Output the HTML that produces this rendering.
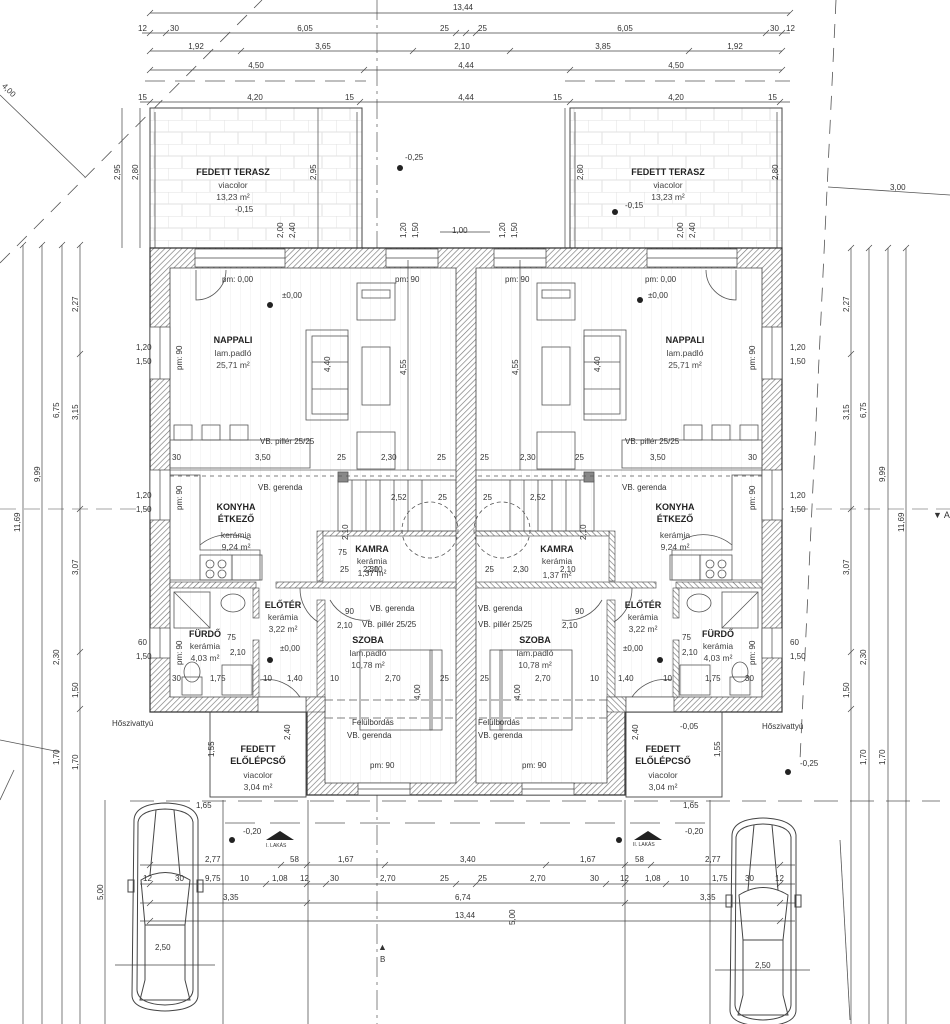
<!DOCTYPE html>
<html><head><meta charset="utf-8"><style>
html,body{margin:0;padding:0;background:#fff;}
svg{display:block;font-family:"Liberation Sans",sans-serif;}
text{fill:#333;font-size:8px;}
.b{font-weight:bold;font-size:9px;fill:#222;}
.t{font-size:8.5px;fill:#444;}
</style></head><body>
<svg width="950" height="1024" viewBox="0 0 950 1024" xmlns="http://www.w3.org/2000/svg">
<defs>
<pattern id="h" width="4" height="4" patternUnits="userSpaceOnUse" patternTransform="rotate(45)"><rect width="4" height="4" fill="#fff"/><line x1="0" y1="0" x2="0" y2="4" stroke="#777" stroke-width="1.3"/></pattern>
<pattern id="br" width="28" height="24" patternUnits="userSpaceOnUse"><rect width="28" height="24" fill="#fff"/><path d="M0,0H28M0,12H28M0,0V12M14,12V24" stroke="#e2e2e2" stroke-width="1" fill="none"/></pattern>
<pattern id="fl" width="10" height="10" patternUnits="userSpaceOnUse"><rect width="10" height="10" fill="#fff"/><line x1="0" y1="0" x2="0" y2="10" stroke="#ececec"/></pattern>
</defs>

<!-- guide lines -->
<g stroke="#555" fill="none" stroke-width="0.8">
<line x1="0" y1="263" x2="262" y2="0" stroke-dasharray="14,10"/>
<line x1="0" y1="95" x2="85" y2="177"/>
<line x1="836" y1="0" x2="800" y2="760" stroke-dasharray="14,10"/>
<line x1="828" y1="187" x2="950" y2="195"/>
<line x1="0" y1="509" x2="950" y2="509" stroke-dasharray="16,8" stroke="#888"/>
<line x1="377" y1="0" x2="377" y2="1024" stroke-dasharray="20,5,3,5" stroke="#666"/>
<line x1="0" y1="740" x2="60" y2="752"/>
<line x1="0" y1="800" x2="14" y2="770"/>
<line x1="145" y1="81" x2="366" y2="81" stroke-dasharray="20,10"/>
<line x1="565" y1="81" x2="790" y2="81" stroke-dasharray="20,10"/>
<line x1="130" y1="801" x2="940" y2="801" stroke-dasharray="24,12"/>
<line x1="225" y1="823" x2="720" y2="823" stroke-dasharray="30,15"/>
<line x1="223" y1="800" x2="223" y2="1024"/>
<line x1="308" y1="800" x2="308" y2="1024"/>
<line x1="625" y1="800" x2="625" y2="1024"/>
<line x1="710" y1="800" x2="710" y2="1024"/>
<line x1="840" y1="840" x2="850" y2="1020"/>
</g>

<!-- terraces -->
<rect x="150" y="108" width="212" height="140" fill="url(#br)" stroke="#444" stroke-width="1"/>
<rect x="570" y="108" width="212" height="140" fill="url(#br)" stroke="#444" stroke-width="1"/>
<g stroke="#555" stroke-width="0.8"><line x1="155" y1="112" x2="155" y2="248"/><line x1="357" y1="112" x2="357" y2="248"/><line x1="575" y1="112" x2="575" y2="248"/><line x1="777" y1="112" x2="777" y2="248"/></g>

<!-- building -->
<path d="M150,248H782V712H625V795H307V712H150Z" fill="url(#h)" stroke="#333" stroke-width="1.2"/>
<g id="L">
<path d="M170,268H456V783H325V697H170Z" fill="url(#fl)" stroke="#444" stroke-width="0.8"/>
<!-- interior walls -->
<g fill="url(#h)" stroke="#444" stroke-width="0.6">
<rect x="170" y="582" width="86" height="6"/>
<rect x="276" y="582" width="180" height="6"/>
<rect x="253" y="588" width="6" height="30"/>
<rect x="253" y="640" width="6" height="57"/>
<rect x="317" y="531" width="6" height="50"/>
<rect x="317" y="600" width="8" height="97"/>
<rect x="323" y="531" width="133" height="5"/>
<rect x="306" y="697" width="19" height="15"/>
</g>
<!-- windows -->
<g fill="#fff" stroke="#444" stroke-width="0.7">
<rect x="195" y="249" width="90" height="18"/><line x1="195" y1="258" x2="285" y2="258"/>
<rect x="386" y="249" width="52" height="18"/><line x1="386" y1="258" x2="438" y2="258"/>
<rect x="150" y="327" width="20" height="52"/><line x1="160" y1="327" x2="160" y2="379"/>
<rect x="150" y="470" width="20" height="50"/><line x1="160" y1="470" x2="160" y2="520"/>
<rect x="150" y="628" width="20" height="30"/><line x1="160" y1="628" x2="160" y2="658"/>
<rect x="258" y="697" width="48" height="15"/>
<rect x="358" y="783" width="52" height="12"/><line x1="358" y1="789" x2="410" y2="789"/>
</g>
<!-- furniture -->
<g fill="none" stroke="#555" stroke-width="0.8">
<rect x="306" y="330" width="42" height="90"/><rect x="312" y="336" width="36" height="78"/>
<line x1="312" y1="362" x2="348" y2="362"/><line x1="312" y1="389" x2="348" y2="389"/>
<rect x="362" y="347" width="28" height="58"/>
<rect x="357" y="283" width="38" height="37"/><rect x="362" y="290" width="28" height="8"/>
<rect x="357" y="432" width="38" height="37"/>
<rect x="170" y="440" width="140" height="28"/>
<rect x="174" y="425" width="18" height="15"/><rect x="202" y="425" width="18" height="15"/><rect x="230" y="425" width="18" height="15"/>
<path d="M170,475H200V550H260V580H170"/>
<rect x="200" y="555" width="32" height="25"/><circle cx="210" cy="564" r="4"/><circle cx="222" cy="564" r="4"/><circle cx="210" cy="574" r="4"/><circle cx="222" cy="574" r="4"/>
<rect x="232" y="555" width="30" height="25"/>
<rect x="174" y="592" width="36" height="36"/><line x1="174" y1="592" x2="210" y2="628"/>
<ellipse cx="233" cy="603" rx="12" ry="9"/>
<rect x="182" y="677" width="20" height="18"/><ellipse cx="192" cy="672" rx="8" ry="10"/>
<rect x="222" y="665" width="30" height="30"/>
<path d="M200,545A45,45 0 0 1 250,540"/>
<path d="M196,270V300A30,30 0 0 0 226,270"/>
<path d="M300,588A40,40 0 0 0 318,622"/>
<path d="M260,680A40,40 0 0 1 300,697"/>
<path d="M330,600A40,40 0 0 0 370,620"/>
<rect x="360" y="650" width="72" height="80"/><rect x="430" y="650" width="12" height="80"/>
<line x1="325" y1="700" x2="456" y2="700" stroke-dasharray="8,4"/>
<line x1="325" y1="718" x2="456" y2="718" stroke-dasharray="8,4"/>
<!-- stairs -->
<rect x="338" y="480" width="118" height="51"/>
<path d="M352,480V531M366,480V531M380,480V531M394,480V531M408,480V531M422,480V531"/>
<circle cx="430" cy="530" r="28" stroke-dasharray="4,3"/>
<rect x="338" y="472" width="10" height="10" fill="#888"/>
<line x1="170" y1="470" x2="456" y2="470" stroke="#666"/>
<line x1="170" y1="470" x2="456" y2="470" stroke-dasharray="4,4" transform="translate(0,6)"/>
</g>
</g>
<use href="#L" transform="translate(932,0) scale(-1,1)"/>

<!-- porch boxes -->
<g fill="none" stroke="#444" stroke-width="0.9">
<rect x="210" y="712" width="96" height="85"/>
<rect x="626" y="712" width="96" height="85"/>
</g>

<!-- cars -->
<g fill="none" stroke="#444" stroke-width="1">
<g id="car">
<path d="M134,820Q135,804 165,803Q196,804 198,820V995Q198,1010 165,1011Q132,1010 132,995Z"/>
<path d="M138,822Q140,810 165,809Q191,810 193,822V990Q192,1004 165,1005Q138,1004 137,990Z"/>
<path d="M141,880Q165,865 190,880L185,925H145Z"/>
<line x1="156" y1="810" x2="150" y2="875"/><line x1="174" y1="810" x2="180" y2="875"/>
<path d="M145,925V980L140,1000H190L185,980V925"/>
<rect x="128" y="880" width="6" height="12"/><rect x="197" y="880" width="6" height="12"/>
</g>
<use href="#car" transform="translate(598,15)"/>
</g>

<!-- dimension lines -->
<g stroke="#444" stroke-width="0.7" fill="none">
<line x1="150" y1="13" x2="790" y2="13"/><line x1="142" y1="33" x2="790" y2="33"/>
<line x1="150" y1="51" x2="782" y2="51"/><line x1="150" y1="70" x2="782" y2="70"/>
<line x1="140" y1="102" x2="790" y2="102"/>
<line x1="140" y1="865" x2="795" y2="865"/><line x1="140" y1="884" x2="795" y2="884"/>
<line x1="140" y1="903" x2="795" y2="903"/><line x1="140" y1="921" x2="795" y2="921"/>
<line x1="23" y1="245" x2="23" y2="1024"/><line x1="42" y1="245" x2="42" y2="1024"/>
<line x1="62" y1="245" x2="62" y2="1024"/><line x1="80" y1="245" x2="80" y2="1024"/>
<line x1="851" y1="248" x2="851" y2="1024"/><line x1="869" y1="248" x2="869" y2="1024"/>
<line x1="888" y1="248" x2="888" y2="1024"/><line x1="906" y1="248" x2="906" y2="1024"/>
<line x1="122" y1="108" x2="122" y2="248"/><line x1="140" y1="108" x2="140" y2="248"/>
<line x1="318" y1="108" x2="318" y2="248"/><line x1="565" y1="108" x2="565" y2="248"/>
<line x1="105" y1="800" x2="105" y2="1024"/>
<line x1="115" y1="965" x2="215" y2="965"/><line x1="715" y1="970" x2="810" y2="970"/>
<line x1="408" y1="260" x2="408" y2="470"/><line x1="520" y1="260" x2="520" y2="470"/>
<line x1="440" y1="232" x2="490" y2="232"/>
<path d="M147,16l6,-6M787,16l6,-6M147,36l6,-6M163,36l6,-6M453,36l6,-6M463,36l6,-6M473,36l6,-6M763,36l6,-6M779,36l6,-6M147,54l6,-6M238,54l6,-6M410,54l6,-6M507,54l6,-6M686,54l6,-6M779,54l6,-6M147,73l6,-6M361,73l6,-6M567,73l6,-6M779,73l6,-6M147,105l6,-6M357,105l6,-6M567,105l6,-6M777,105l6,-6"/>
<path d="M20,248l6,-6M39,248l6,-6M59,248l6,-6M77,248l6,-6M77,357l6,-6M77,512l6,-6M77,655l6,-6M77,712l6,-6M848,251l6,-6M866,251l6,-6M885,251l6,-6M903,251l6,-6M848,357l6,-6M848,512l6,-6M848,655l6,-6M848,712l6,-6"/>
<path d="M147,868l6,-6M278,868l6,-6M304,868l6,-6M382,868l6,-6M543,868l6,-6M622,868l6,-6M648,868l6,-6M777,868l6,-6M147,906l6,-6M304,906l6,-6M622,906l6,-6M777,906l6,-6M147,924l6,-6M777,924l6,-6M147,887l6,-6M263,887l6,-6M304,887l6,-6M323,887l6,-6M453,887l6,-6M473,887l6,-6M603,887l6,-6M622,887l6,-6M663,887l6,-6M777,887l6,-6"/>
</g>

<!-- dimension texts top -->
<text x="463" y="10" text-anchor="middle">13,44</text>
<text x="138" y="31">12</text><text x="170" y="31">30</text><text x="305" y="31" text-anchor="middle">6,05</text>
<text x="440" y="31">25</text><text x="478" y="31">25</text><text x="625" y="31" text-anchor="middle">6,05</text><text x="770" y="31">30</text><text x="786" y="31">12</text>
<text x="196" y="49" text-anchor="middle">1,92</text><text x="323" y="49" text-anchor="middle">3,65</text><text x="462" y="49" text-anchor="middle">2,10</text><text x="603" y="49" text-anchor="middle">3,85</text><text x="735" y="49" text-anchor="middle">1,92</text>
<text x="256" y="68" text-anchor="middle">4,50</text><text x="466" y="68" text-anchor="middle">4,44</text><text x="676" y="68" text-anchor="middle">4,50</text>
<text x="255" y="100" text-anchor="middle">4,20</text><text x="466" y="100" text-anchor="middle">4,44</text><text x="676" y="100" text-anchor="middle">4,20</text>
<text x="345" y="100">15</text><text x="138" y="100">15</text><text x="553" y="100">15</text><text x="768" y="100">15</text>
<text x="890" y="190">3,00</text>
<text x="0" y="90" transform="rotate(45 5 90)">4,00</text>

<!-- vertical dim texts -->
<g>
<text transform="translate(120,180) rotate(-90)">2,95</text>
<text transform="translate(138,180) rotate(-90)">2,80</text>
<text transform="translate(316,180) rotate(-90)">2,95</text>
<text transform="translate(583,180) rotate(-90)">2,80</text>
<text transform="translate(778,180) rotate(-90)">2,80</text>
<text transform="translate(20,532) rotate(-90)">11,69</text>
<text transform="translate(40,482) rotate(-90)">9,99</text>
<text transform="translate(59,418) rotate(-90)">6,75</text>
<text transform="translate(78,312) rotate(-90)">2,27</text>
<text transform="translate(78,420) rotate(-90)">3,15</text>
<text transform="translate(78,575) rotate(-90)">3,07</text>
<text transform="translate(59,665) rotate(-90)">2,30</text>
<text transform="translate(78,698) rotate(-90)">1,50</text>
<text transform="translate(59,765) rotate(-90)">1,70</text>
<text transform="translate(78,770) rotate(-90)">1,70</text>
<text transform="translate(849,312) rotate(-90)">2,27</text>
<text transform="translate(849,420) rotate(-90)">3,15</text>
<text transform="translate(849,575) rotate(-90)">3,07</text>
<text transform="translate(866,418) rotate(-90)">6,75</text>
<text transform="translate(885,482) rotate(-90)">9,99</text>
<text transform="translate(904,532) rotate(-90)">11,69</text>
<text transform="translate(866,665) rotate(-90)">2,30</text>
<text transform="translate(849,698) rotate(-90)">1,50</text>
<text transform="translate(866,765) rotate(-90)">1,70</text>
<text transform="translate(885,765) rotate(-90)">1,70</text>
<text transform="translate(103,900) rotate(-90)">5,00</text>
<text transform="translate(515,925) rotate(-90)">5,00</text>
<text transform="translate(406,375) rotate(-90)">4,55</text>
<text transform="translate(518,375) rotate(-90)">4,55</text>
<text transform="translate(330,372) rotate(-90)">4,40</text>
<text transform="translate(600,372) rotate(-90)">4,40</text>
<text transform="translate(406,238) rotate(-90)">1,20</text>
<text transform="translate(418,238) rotate(-90)">1,50</text>
<text transform="translate(505,238) rotate(-90)">1,20</text>
<text transform="translate(517,238) rotate(-90)">1,50</text>
<text transform="translate(283,238) rotate(-90)">2,00</text>
<text transform="translate(295,238) rotate(-90)">2,40</text>
<text transform="translate(683,238) rotate(-90)">2,00</text>
<text transform="translate(695,238) rotate(-90)">2,40</text>
<text transform="translate(182,370) rotate(-90)">pm: 90</text>
<text transform="translate(755,370) rotate(-90)">pm: 90</text>
<text transform="translate(182,510) rotate(-90)">pm: 90</text>
<text transform="translate(755,510) rotate(-90)">pm: 90</text>
<text transform="translate(182,665) rotate(-90)">pm: 90</text>
<text transform="translate(755,665) rotate(-90)">pm: 90</text>
<text transform="translate(214,757) rotate(-90)">1,55</text>
<text transform="translate(720,757) rotate(-90)">1,55</text>
<text transform="translate(290,740) rotate(-90)">2,40</text>
<text transform="translate(638,740) rotate(-90)">2,40</text>
<text transform="translate(420,700) rotate(-90)">4,00</text>
<text transform="translate(520,700) rotate(-90)">4,00</text>
<text transform="translate(348,540) rotate(-90)">2,10</text>
<text transform="translate(586,540) rotate(-90)">2,10</text>
</g>
<g>
<text x="136" y="350">1,20</text><text x="136" y="364">1,50</text>
<text x="136" y="498">1,20</text><text x="136" y="512">1,50</text>
<text x="138" y="645">60</text><text x="136" y="659">1,50</text>
<text x="790" y="350">1,20</text><text x="790" y="364">1,50</text>
<text x="790" y="498">1,20</text><text x="790" y="512">1,50</text>
<text x="790" y="645">60</text><text x="790" y="659">1,50</text>
<text x="933" y="518" style="font-size:9px">▼ A</text>
<text x="378" y="950" style="font-size:9px">▲</text><text x="380" y="962">B</text>
</g>

<!-- inner dims -->
<g>
<text x="172" y="460">30</text><text x="255" y="460">3,50</text><text x="337" y="460">25</text><text x="381" y="460">2,30</text><text x="437" y="460">25</text>
<text x="480" y="460">25</text><text x="520" y="460">2,30</text><text x="575" y="460">25</text><text x="650" y="460">3,50</text><text x="748" y="460">30</text>
<text x="391" y="500">2,52</text><text x="530" y="500">2,52</text><text x="438" y="500">25</text><text x="483" y="500">25</text>
<text x="340" y="572">25</text><text x="363" y="572">2,30</text><text x="485" y="572">25</text><text x="513" y="572">2,30</text>
<text x="338" y="555">75</text><text x="367" y="572">2,10</text><text x="560" y="572">2,10</text>
<text x="172" y="681">30</text><text x="210" y="681">1,75</text><text x="263" y="681">10</text><text x="287" y="681">1,40</text><text x="330" y="681">10</text><text x="385" y="681">2,70</text><text x="440" y="681">25</text>
<text x="480" y="681">25</text><text x="535" y="681">2,70</text><text x="590" y="681">10</text><text x="618" y="681">1,40</text><text x="663" y="681">10</text><text x="705" y="681">1,75</text><text x="745" y="681">30</text>
<text x="230" y="655">2,10</text><text x="227" y="640">75</text><text x="337" y="628">2,10</text><text x="345" y="614">90</text>
<text x="682" y="655">2,10</text><text x="682" y="640">75</text><text x="562" y="628">2,10</text><text x="575" y="614">90</text>
<text x="452" y="233">1,00</text>
<text x="196" y="808">1,65</text><text x="683" y="808">1,65</text>
</g>
<!-- bottom dims -->
<g>
<text x="205" y="862">2,77</text><text x="290" y="862">58</text><text x="338" y="862">1,67</text><text x="460" y="862">3,40</text><text x="580" y="862">1,67</text><text x="635" y="862">58</text><text x="705" y="862">2,77</text>
<text x="143" y="881">12</text><text x="175" y="881">30</text><text x="205" y="881">9,75</text><text x="240" y="881">10</text><text x="272" y="881">1,08</text><text x="300" y="881">12</text><text x="330" y="881">30</text><text x="380" y="881">2,70</text><text x="440" y="881">25</text><text x="478" y="881">25</text><text x="530" y="881">2,70</text><text x="590" y="881">30</text><text x="620" y="881">12</text><text x="645" y="881">1,08</text><text x="680" y="881">10</text><text x="712" y="881">1,75</text><text x="745" y="881">30</text><text x="775" y="881">12</text>
<text x="223" y="900">3,35</text><text x="455" y="900">6,74</text><text x="700" y="900">3,35</text>
<text x="455" y="918">13,44</text>
<text x="155" y="950">2,50</text><text x="755" y="968">2,50</text>
</g>

<!-- room labels -->
<g text-anchor="middle">
<text class="b" x="233" y="175">FEDETT TERASZ</text><text class="t" x="233" y="188">viacolor</text><text class="t" x="233" y="200">13,23 m²</text>
<text class="b" x="668" y="175">FEDETT TERASZ</text><text class="t" x="668" y="188">viacolor</text><text class="t" x="668" y="200">13,23 m²</text>
<text class="b" x="233" y="343">NAPPALI</text><text class="t" x="233" y="356">lam.padló</text><text class="t" x="233" y="368">25,71 m²</text>
<text class="b" x="685" y="343">NAPPALI</text><text class="t" x="685" y="356">lam.padló</text><text class="t" x="685" y="368">25,71 m²</text>
<text class="b" x="236" y="510">KONYHA</text><text class="b" x="236" y="522">ÉTKEZŐ</text><text class="t" x="236" y="538">kerámia</text><text class="t" x="236" y="550">9,24 m²</text>
<text class="b" x="675" y="510">KONYHA</text><text class="b" x="675" y="522">ÉTKEZŐ</text><text class="t" x="675" y="538">kerámia</text><text class="t" x="675" y="550">9,24 m²</text>
<text class="b" x="372" y="552">KAMRA</text><text class="t" x="372" y="564">kerámia</text><text class="t" x="372" y="576">1,37 m²</text>
<text class="b" x="557" y="552">KAMRA</text><text class="t" x="557" y="564">kerámia</text><text class="t" x="557" y="578">1,37 m²</text>
<text class="b" x="283" y="608">ELŐTÉR</text><text class="t" x="283" y="620">kerámia</text><text class="t" x="283" y="632">3,22 m²</text>
<text class="b" x="643" y="608">ELŐTÉR</text><text class="t" x="643" y="620">kerámia</text><text class="t" x="643" y="632">3,22 m²</text>
<text class="b" x="205" y="637">FÜRDŐ</text><text class="t" x="205" y="649">kerámia</text><text class="t" x="205" y="661">4,03 m²</text>
<text class="b" x="718" y="637">FÜRDŐ</text><text class="t" x="718" y="649">kerámia</text><text class="t" x="718" y="661">4,03 m²</text>
<text class="b" x="368" y="643">SZOBA</text><text class="t" x="368" y="656">lam.padló</text><text class="t" x="368" y="668">10,78 m²</text>
<text class="b" x="535" y="643">SZOBA</text><text class="t" x="535" y="656">lam.padló</text><text class="t" x="535" y="668">10,78 m²</text>
<text class="b" x="258" y="752">FEDETT</text><text class="b" x="258" y="764">ELŐLÉPCSŐ</text><text class="t" x="258" y="778">viacolor</text><text class="t" x="258" y="790">3,04 m²</text>
<text class="b" x="663" y="752">FEDETT</text><text class="b" x="663" y="764">ELŐLÉPCSŐ</text><text class="t" x="663" y="778">viacolor</text><text class="t" x="663" y="790">3,04 m²</text>
</g>
<!-- annotations -->
<g>
<text x="222" y="282">pm: 0,00</text><text x="395" y="282">pm: 90</text><text x="505" y="282">pm: 90</text><text x="645" y="282">pm: 0,00</text>
<text x="282" y="298">±0,00</text><text x="648" y="298">±0,00</text>
<text x="405" y="160">-0,25</text><text x="235" y="212">-0,15</text><text x="625" y="208">-0,15</text>
<text x="260" y="444">VB. pillér 25/25</text><text x="625" y="444">VB. pillér 25/25</text>
<text x="258" y="490">VB. gerenda</text><text x="622" y="490">VB. gerenda</text>
<text x="370" y="611">VB. gerenda</text><text x="478" y="611">VB. gerenda</text>
<text x="362" y="627">VB. pillér 25/25</text><text x="478" y="627">VB. pillér 25/25</text>
<text x="280" y="651">±0,00</text><text x="623" y="651">±0,00</text>
<text x="352" y="725">Felülbordás</text><text x="478" y="725">Felülbordás</text>
<text x="347" y="738">VB. gerenda</text><text x="478" y="738">VB. gerenda</text>
<text x="370" y="768">pm: 90</text><text x="522" y="768">pm: 90</text>
<text x="112" y="726">Hőszivattyú</text><text x="762" y="729">Hőszivattyú</text>
<text x="680" y="729">-0,05</text><text x="800" y="766">-0,25</text>
<text x="243" y="834">-0,20</text><text x="685" y="834">-0,20</text>
<text x="266" y="847" style="font-size:5px">I. LAKÁS</text><text x="633" y="846" style="font-size:5px">II. LAKÁS</text>
</g>
<g fill="#222">
<path d="M266,840L280,831L294,840Z"/><path d="M634,840L648,831L662,840Z"/>
<circle cx="400" cy="168" r="3"/><circle cx="270" cy="305" r="3"/><circle cx="640" cy="300" r="3"/>
<circle cx="232" cy="840" r="3"/><circle cx="619" cy="840" r="3"/><circle cx="270" cy="660" r="3"/><circle cx="660" cy="660" r="3"/>
<circle cx="615" cy="212" r="3"/><circle cx="788" cy="772" r="3"/>
</g>
</svg>
</body></html>
